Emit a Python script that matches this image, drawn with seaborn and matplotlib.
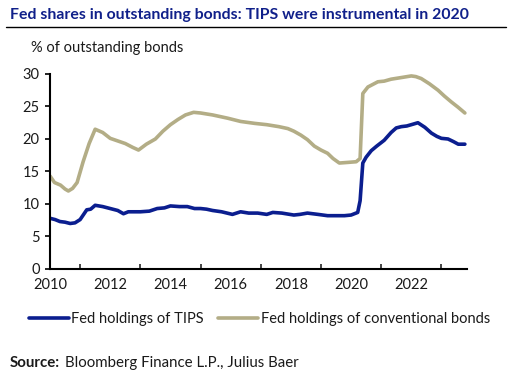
import matplotlib.pyplot as plt
import seaborn as sns
import pandas as pd
from matplotlib.ticker import MultipleLocator

# data (fractional year, % of outstanding bonds)
tips_year = [2010.0, 2010.17, 2010.33, 2010.5, 2010.67, 2010.83, 2011.0, 2011.22, 2011.35,
             2011.5, 2011.75, 2012.0, 2012.25, 2012.44, 2012.6, 2012.8, 2013.0, 2013.3,
             2013.56, 2013.8, 2014.0, 2014.3, 2014.56, 2014.8, 2015.0, 2015.2, 2015.4,
             2015.7, 2016.06, 2016.33, 2016.6, 2016.9, 2017.2, 2017.4, 2017.7, 2018.1,
             2018.3, 2018.55, 2018.9, 2019.22, 2019.5, 2019.78, 2020.0, 2020.22, 2020.3,
             2020.39, 2020.5, 2020.67, 2020.85, 2021.1, 2021.33, 2021.5, 2021.67, 2021.85,
             2022.0, 2022.22, 2022.45, 2022.67, 2022.85, 2023.0, 2023.22, 2023.4, 2023.56,
             2023.78]
tips_val = [7.8, 7.6, 7.3, 7.2, 7.0, 7.1, 7.6, 9.1, 9.2,
            9.8, 9.6, 9.3, 9.0, 8.5, 8.8, 8.8, 8.8, 8.9,
            9.3, 9.4, 9.7, 9.6, 9.6, 9.3, 9.3, 9.2, 9.0,
            8.8, 8.4, 8.8, 8.6, 8.6, 8.4, 8.7, 8.6, 8.3,
            8.4, 8.6, 8.4, 8.2, 8.2, 8.2, 8.3, 8.7, 10.5,
            16.3, 17.2, 18.2, 18.9, 19.8, 21.0, 21.7, 21.9, 22.0,
            22.2, 22.5, 21.8, 20.9, 20.4, 20.1, 20.0, 19.6, 19.2,
            19.2]

conv_year = [2010.0, 2010.15, 2010.35, 2010.5, 2010.61, 2010.75, 2010.9, 2011.1, 2011.3,
             2011.5, 2011.75, 2012.0, 2012.25, 2012.5, 2012.75, 2012.94, 2013.2, 2013.5,
             2013.75, 2014.0, 2014.25, 2014.5, 2014.77, 2015.0, 2015.4, 2015.9, 2016.33,
             2016.8, 2017.2, 2017.6, 2017.9, 2018.1, 2018.33, 2018.55, 2018.78, 2019.0,
             2019.22, 2019.4, 2019.61, 2019.9, 2020.17, 2020.3, 2020.39, 2020.56, 2020.89,
             2021.1, 2021.33, 2021.6, 2022.0, 2022.15, 2022.33, 2022.6, 2022.89, 2023.1,
             2023.33, 2023.55, 2023.78]
conv_val = [14.3, 13.3, 12.9, 12.3, 12.0, 12.4, 13.3, 16.5, 19.3,
            21.5, 21.0, 20.1, 19.7, 19.3, 18.7, 18.3, 19.2, 20.0,
            21.2, 22.2, 23.0, 23.7, 24.1, 24.0, 23.7, 23.2, 22.7,
            22.4, 22.2, 21.9, 21.6, 21.2, 20.6, 19.9, 18.9, 18.3,
            17.8, 17.0, 16.3, 16.4, 16.5, 17.0, 27.0, 28.0, 28.8,
            28.9, 29.2, 29.4, 29.7, 29.6, 29.3, 28.5, 27.5, 26.6,
            25.7, 24.9, 24.0]

tips_label = "Fed holdings of TIPS"
conv_label = "Fed holdings of conventional bonds"

df = pd.concat([
    pd.DataFrame({"year": tips_year, "value": tips_val, "series": tips_label}),
    pd.DataFrame({"year": conv_year, "value": conv_val, "series": conv_label}),
])

sns.set_style("white")
plt.rcParams["font.family"] = ["Lato", "DejaVu Sans"]

navy = "#0b1e8f"
gold = "#b3ad86"

fig = plt.figure(figsize=(5.22, 3.75), dpi=100)
ax = fig.add_axes([0.0958, 0.2827, 0.7988, 0.52])

sns.lineplot(data=df, x="year", y="value", hue="series", sort=False,
             palette={tips_label: navy, conv_label: gold}, linewidth=2.6, ax=ax, legend=False)

ax.set_xlim(2010, 2023.85)
ax.set_ylim(0, 30)
ax.set_xticks([2010, 2012, 2014, 2016, 2018, 2020, 2022])
ax.xaxis.set_minor_locator(MultipleLocator(1))
ax.set_yticks(range(0, 31, 5))
ax.set_xlabel("")
ax.set_ylabel("")
for s in ["top", "right"]:
    ax.spines[s].set_visible(False)
for s in ["left", "bottom"]:
    ax.spines[s].set_color("black")
    ax.spines[s].set_linewidth(1.5)
ax.tick_params(axis="x", which="major", direction="inout", length=7, width=1.2,
               labelsize=10.5, pad=3, colors="black")
ax.tick_params(axis="x", which="minor", direction="in", length=3.5, width=1.2, bottom=True)
ax.tick_params(axis="y", direction="out", length=3.5, width=1.2, labelsize=10.5, pad=4,
               left=True, colors="black")
for lab in ax.get_xticklabels() + ax.get_yticklabels():
    lab.set_color("#1a1a1a")

# legend
h1, = ax.plot([], [], color=navy, linewidth=2.6)
h2, = ax.plot([], [], color=gold, linewidth=2.6)
fig.legend([h1, h2], [tips_label, conv_label], loc="center left", bbox_to_anchor=(0.055, 0.149),
           ncol=2, frameon=False, fontsize=10.5, handlelength=2.75, handletextpad=0.15,
           columnspacing=1.0, borderaxespad=0, borderpad=0, labelcolor="#1a1a1a")

# title, rule, axis caption, source
fig.text(0.019, 0.96, "Fed shares in outstanding bonds: TIPS were instrumental in 2020",
         fontsize=11.4, fontweight="bold", color="#10208a", va="center")
fig.add_artist(plt.Line2D([0.011, 0.97], [0.928, 0.928], color="black", linewidth=1))
fig.text(0.06, 0.872, "% of outstanding bonds", fontsize=10.5, color="#1a1a1a", va="center")
fig.text(0.019, 0.031, "Source:", fontsize=10.8, fontweight="bold", color="#1a1a1a", va="center")
fig.text(0.125, 0.031, "Bloomberg Finance L.P., Julius Baer", fontsize=10.8, color="#1a1a1a",
         va="center")

fig.savefig("out.png", dpi=100)
